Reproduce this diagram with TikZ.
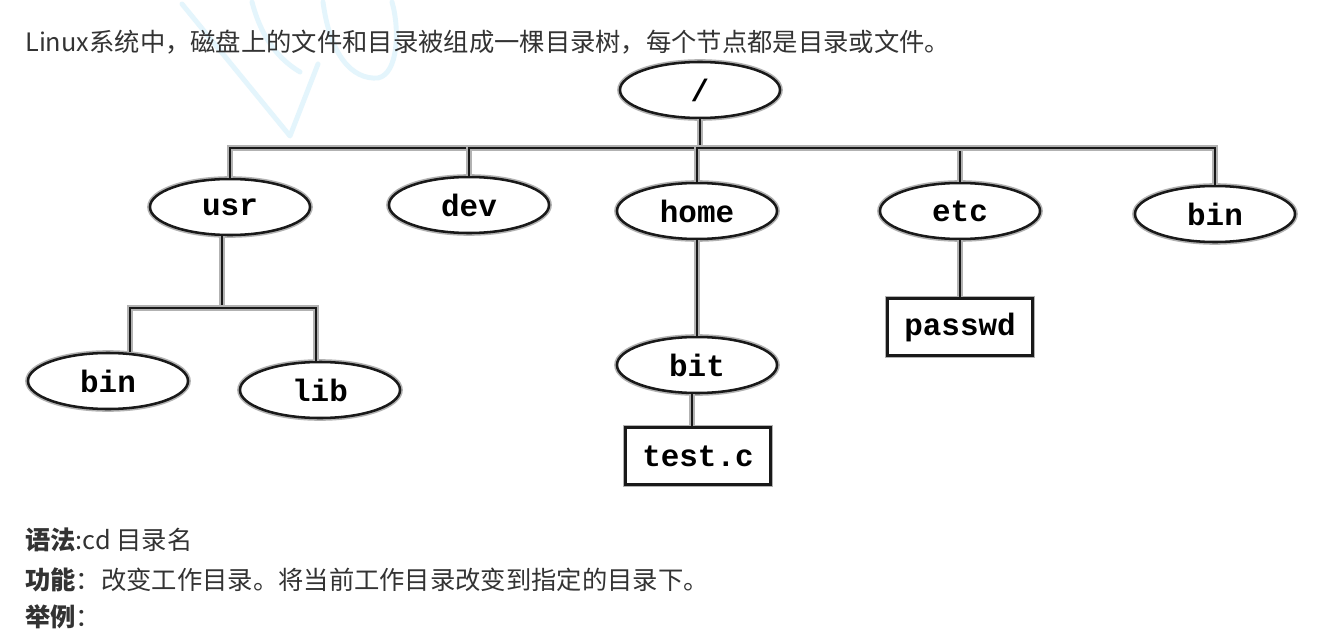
\documentclass[tikz,border=0pt]{standalone}
\usepackage{fontspec}
\usetikzlibrary{positioning,shapes.geometric}
\newfontfamily\cjk{Noto Sans CJK SC}
\newfontfamily\lblfont{Liberation Mono}
\definecolor{txtG}{RGB}{51,51,51}
\definecolor{inkK}{RGB}{25,25,25}
\definecolor{wmBlue}{RGB}{228,245,252}

\begin{document}
\begin{tikzpicture}[x=0.025cm,y=-0.025cm]
  \tikzset{
    ink/.style={draw=inkK,line width=1.8pt,preaction={draw=black!30,line width=4pt}},
    dirnode/.style={ellipse,ink,fill=white,minimum width=4cm,minimum height=1.4cm,inner sep=0pt,font=\lblfont\bfseries\fontsize{22}{24}\selectfont},
    filenode/.style={rectangle,ink,fill=white,minimum width=3.63cm,minimum height=1.43cm,inner sep=0pt,font=\lblfont\bfseries\fontsize{22}{24}\selectfont},
    link/.style={ink},
    txt/.style={anchor=west,inner sep=0pt,text=txtG,font=\cjk\fontsize{18}{20}\selectfont}
  }
  \useasboundingbox[fill=white] (0,0) rectangle (1328,644);
  % watermark strokes
  \draw[wmBlue,line width=3.5pt,line cap=round,line join=round] (182,4) -- (290,136) -- (318,64);
  \draw[wmBlue,line width=3.5pt,line cap=round] (252,2) .. controls (262,40) and (280,60) .. (300,72);
  \draw[wmBlue,line width=3.5pt,line cap=round] (323,2) .. controls (330,55) and (352,80) .. (378,78) .. controls (398,74) and (400,30) .. (392,2);
  % texts
  \node[txt] (intro) at (25,42) {Linux系统中，磁盘上的文件和目录被组成一棵目录树，每个节点都是目录或文件。};
  \node[txt] (syntax) at (25,540) {\textbf{语法}:cd 目录名};
  \node[txt] (func) at (25,580) {\textbf{功能}：改变工作目录。将当前工作目录改变到指定的目录下。};
  \node[txt] (expl) at (25,617) {\textbf{举例}：};
  % tree
  \node[dirnode] (root) at (700,90) {/};
  \node[dirnode] (usr) at (230,207) {usr};
  \node[dirnode] (dev) at (469,205) {dev};
  \node[dirnode] (home) at (697,211) {home};
  \node[dirnode] (etc) at (960,211) {etc};
  \node[dirnode] (bintop) at (1215,214) {bin};
  \node[dirnode] (binusr) at (108,381) {bin};
  \node[dirnode] (lib) at (320,390) {lib};
  \node[dirnode] (bit) at (697,365) {bit};
  \node[filenode] (testc) at (698,456) {test.c};
  \node[filenode] (passwd) at (960,327) {passwd};
  \coordinate (rbar) at (700,148);
  \coordinate (ubar) at (222,308);
  \draw[link] (root.south) -- (rbar);
  \foreach \c in {usr,dev,home,etc,bintop} {
    \draw[link] (rbar) -| (\c.north);
  }
  \draw[link] (usr.south -| ubar) -- (ubar);
  \draw[link] (ubar) -| ([xshift=0.55cm]binusr.north);
  \draw[link] (ubar) -| ([xshift=-0.1cm]lib.north);
  \draw[link] (home) -- (bit);
  \draw[link] ([xshift=-0.15cm]testc.north) -- ([xshift=-0.15cm]testc.north |- bit.south);
  \draw[link] (etc) -- (passwd);
\end{tikzpicture}
\end{document}
